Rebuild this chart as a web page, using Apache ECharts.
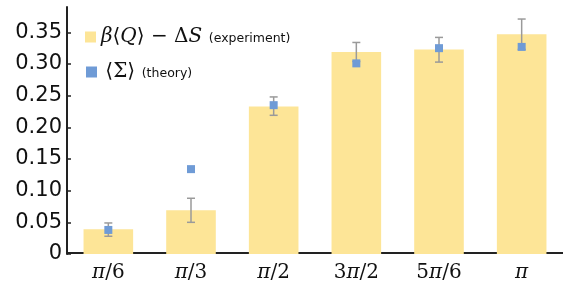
<!DOCTYPE html>
<html>
<head>
<meta charset="utf-8">
<script src="https://cdn.jsdelivr.net/npm/echarts@6/dist/echarts.min.js"></script>
<style>
  html, body { margin: 0; padding: 0; background: #fff; }
  #chart { width: 571px; height: 284px; }
</style>
</head>
<body>
<div id="chart"></div>
<script>
// values
let categories = ['π/6', 'π/3', 'π/2', '3π/2', '5π/6', 'π']
let experiment = [0.039, 0.069, 0.233, 0.319, 0.323, 0.347]
let errLow = [0.028, 0.050, 0.219, 0.304, 0.303, 0.323]
let errHigh = [0.049, 0.088, 0.248, 0.334, 0.342, 0.371]
let theory = [0.038, 0.134, 0.235, 0.301, 0.325, 0.327]
let yTicks = [0, 0.05, 0.10, 0.15, 0.20, 0.25, 0.30, 0.35]

let serif = "'DejaVu Serif', 'Liberation Serif', serif"
let sans = "'DejaVu Sans', sans-serif"

let mathRich = {
  m: { fontFamily: serif, fontStyle: 'italic', fontSize: 20, color: '#111' },
  u: { fontFamily: serif, fontSize: 20, color: '#111' },
  s: { fontFamily: sans, fontSize: 12.5, color: '#111', padding: [3, 0, 0, 0] }
}

let chart = echarts.init(document.getElementById('chart'))
let option = {
  animation: false,
  grid: {
    left: 67,
    right: 8,
    top: 7,
    bottom: 30
  },
  legend: [{
    data: ['exp'],
    left: 80,
    top: 22,
    icon: 'rect',
    itemWidth: 11,
    itemHeight: 11,
    formatter: () => '{m|β}{u|⟨}{m|Q}{u|⟩ − Δ}{m|S}  {s|(experiment)}',
    textStyle: { rich: mathRich }
  }, {
    data: ['theory'],
    left: 81,
    top: 57,
    icon: 'rect',
    itemWidth: 11,
    itemHeight: 11,
    formatter: () => ' {u|⟨Σ⟩}  {s|(theory)}',
    textStyle: { rich: mathRich }
  }],
  xAxis: {
    type: 'category',
    data: categories,
    axisTick: { show: false },
    axisLine: { show: false },
    axisLabel: {
      interval: 0,
      margin: 9,
      formatter (value) {
        return value.replace(/π/, '{i|π}').replace(/^(\d)/, '{n|$1}').replace(/\/(\d)$/, '{n|/$1}')
      },
      rich: {
        i: { fontFamily: serif, fontStyle: 'italic', fontSize: 20, color: '#111' },
        n: { fontFamily: serif, fontSize: 20, color: '#111' }
      }
    }
  },
  yAxis: {
    type: 'value',
    min: 0,
    max: 0.39,
    splitLine: { show: false },
    axisLine: {
      show: true,
      lineStyle: { color: '#222', width: 2 }
    },
    axisTick: {
      show: true,
      inside: true,
      length: 4,
      customValues: yTicks,
      lineStyle: { color: '#222', width: 1.5 }
    },
    axisLabel: {
      margin: 5,
      customValues: yTicks,
      fontFamily: sans,
      fontSize: 21,
      color: '#111',
      formatter (v) {
        return v === 0 ? '0' : v.toFixed(2)
      }
    }
  },
  series: [{
    // baseline sits just above zero, underneath the bars, so the bars hide it
    name: 'baseline',
    type: 'custom',
    data: [[0, 0]],
    z: 1,
    silent: true,
    renderItem (params, api) {
      let cs = params.coordSys
      let y = api.coord([0, 0])[1] - 1
      return {
        type: 'line',
        shape: { x1: cs.x, y1: y, x2: cs.x + cs.width, y2: y },
        style: { stroke: '#222', lineWidth: 2 }
      }
    }
  }, {
    name: 'exp',
    type: 'bar',
    data: experiment,
    barCategoryGap: '40%',
    itemStyle: { color: '#fde597' },
    z: 5
  }, {
    name: 'err',
    type: 'custom',
    data: categories.map((c, i) => [i, errLow[i], errHigh[i]]),
    z: 6,
    renderItem (params, api) {
      let hi = api.coord([api.value(0), api.value(2)])
      let lo = api.coord([api.value(0), api.value(1)])
      let cap = 4
      let style = { stroke: '#9a9a9a', lineWidth: 1.5 }
      return {
        type: 'group',
        children: [
          { type: 'line', shape: { x1: hi[0], y1: hi[1], x2: lo[0], y2: lo[1] }, style },
          { type: 'line', shape: { x1: hi[0] - cap, y1: hi[1], x2: hi[0] + cap, y2: hi[1] }, style },
          { type: 'line', shape: { x1: lo[0] - cap, y1: lo[1], x2: lo[0] + cap, y2: lo[1] }, style }
        ]
      }
    }
  }, {
    name: 'theory',
    type: 'scatter',
    data: theory,
    symbol: 'rect',
    symbolSize: 8,
    itemStyle: { color: '#6f9bd6', opacity: 1 },
    z: 7
  }]
}
chart.setOption(option)
</script>
</body>
</html>
